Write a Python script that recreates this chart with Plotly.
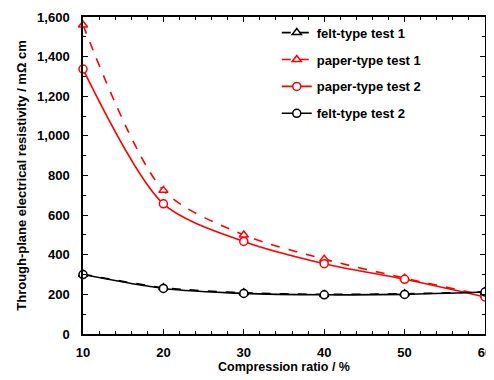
import plotly.graph_objects as go

compression = [10, 20, 30, 40, 50, 60]
felt_test1 = [302, 234, 208, 200, 203, 213]
paper_test1 = [1560, 725, 500, 378, 282, 195]
paper_test2 = [1337, 657, 467, 355, 276, 187]
felt_test2 = [300, 230, 205, 198, 200, 212]

series = [
    ("felt-type test 1", felt_test1, "black", "dash", "triangle-up"),
    ("paper-type test 1", paper_test1, "#ff0000", "dash", "triangle-up"),
    ("paper-type test 2", paper_test2, "#ff0000", "solid", "circle"),
    ("felt-type test 2", felt_test2, "black", "solid", "circle"),
]

fig = go.Figure()
for i, (name, vals, col, dash, sym) in enumerate(series):
    fig.add_trace(go.Scatter(
        x=compression, y=vals, name=name, mode="lines+markers",
        legendgroup=f"g{i}", cliponaxis=False,
        line=dict(color=col, width=1.6, dash=dash, shape="spline", smoothing=0.8),
        marker=dict(symbol=sym, size=8, color="white", line=dict(width=1.5, color=col)),
    ))

fam = "Liberation Sans, Arial, sans-serif"
# page body adds an 8px offset, so the figure is sized/margined to compensate
fig.update_layout(
    width=486, height=372,
    margin=dict(l=75, r=9, t=9, b=46),
    paper_bgcolor="white", plot_bgcolor="white",
    font=dict(family=fam, size=13, color="black"),
    showlegend=True,
    legend=dict(x=0.482, y=0.998, xanchor="left", yanchor="top",
                bgcolor="rgba(0,0,0,0)",
                font=dict(size=13, color="black", family=fam, weight="bold"),
                itemwidth=30, tracegroupgap=7),
)
fig.update_xaxes(
    range=[10, 60], tickmode="array", tickvals=[10, 20, 30, 40, 50, 60],
    ticks="inside", ticklen=5, tickcolor="black", mirror="allticks",
    showline=True, linecolor="black", linewidth=1.5, showgrid=False, zeroline=False,
    minor=dict(dtick=2, ticks="inside", ticklen=3, tickcolor="black", showgrid=False),
    tickfont=dict(size=13, weight="bold"), automargin=False, ticklabelstandoff=6,
    title=dict(text="<b>Compression ratio / %</b>", font=dict(size=12.5), standoff=0),
)
fig.update_yaxes(
    range=[0, 1600], dtick=200, tickformat=",d",
    ticks="inside", ticklen=5, tickcolor="black", mirror="allticks",
    showline=True, linecolor="black", linewidth=1.5, showgrid=False, zeroline=False,
    minor=dict(dtick=100, ticks="inside", ticklen=3, tickcolor="black", showgrid=False),
    tickfont=dict(size=13, weight="bold"), automargin=False, ticklabelstandoff=9,
    title=dict(text="<b>Through-plane electrical resistivity / mΩ cm</b>", font=dict(size=13), standoff=8),
)
fig.write_html("out.html")
